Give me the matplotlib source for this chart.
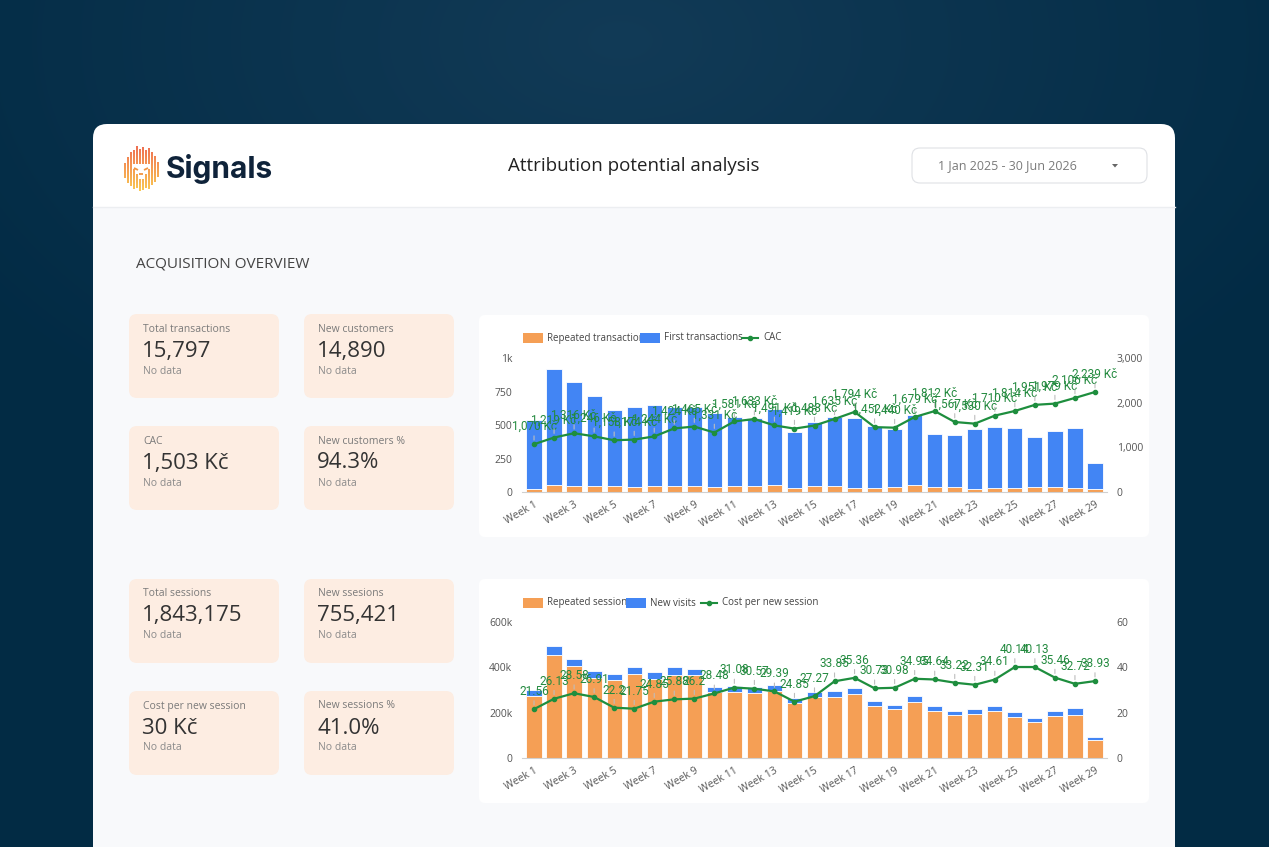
import numpy as np
import matplotlib
matplotlib.use('Agg')
from matplotlib import pyplot as plt
from matplotlib.patches import FancyBboxPatch, Rectangle, Polygon
from matplotlib.lines import Line2D
from matplotlib.collections import LineCollection

plt.rcParams['font.family'] = ['Open Sans', 'DejaVu Sans']

W, H = 1269, 847

ORANGE = '#f59f55'
BLUE = '#4285f4'
GREEN = '#1e8e3e'
PEACH = '#fdede2'

# --- data ---
weeks = [f'Week {i}' for i in range(1, 30)]

repeated_tx = [25, 55, 45, 45, 45, 40, 48, 45, 45, 40, 45, 45, 50, 30, 42,
               42, 32, 30, 40, 54, 35, 35, 25, 27, 32, 35, 35, 27, 20]
first_tx = [510, 863, 774, 675, 566, 594, 598, 591, 591, 547, 512, 507, 566, 418, 483,
            520, 518, 463, 428, 520, 396, 393, 443, 461, 443, 373, 423, 448, 195]
cac = [1070, 1219, 1316, 1246, 1158, 1174, 1244, 1424, 1465, 1331, 1581, 1633, 1491, 1419, 1488,
       1635, 1794, 1452, 1440, 1679, 1812, 1567, 1530, 1710, 1814, 1951, 1979, 2106, 2239]

# sessions in thousands
repeated_sessions_k = [273, 454, 406, 354, 343, 369, 350, 368, 365, 291, 293, 288, 297, 243, 268,
                       268, 284, 228, 215, 247, 209, 190, 194, 207, 181, 160, 185, 191, 79]
new_visits_k = [25, 39, 32, 28, 26, 32, 28, 32, 29, 21, 26, 25, 27, 23, 23,
                26, 26, 23, 19, 25, 19, 17, 21, 24, 20, 18, 24, 31, 14]
cost_per_session = [21.56, 26.13, 28.58, 26.91, 22.2, 21.75, 24.85, 25.88, 26.2, 28.48, 31.08, 30.57,
                    29.39, 24.85, 27.27, 33.85, 35.36, 30.73, 30.98, 34.95, 34.64, 33.22, 32.31,
                    34.61, 40.14, 40.13, 35.46, 32.72, 33.93]

kpi_top = [('Total transactions', '15,797'), ('New customers', '14,890'),
           ('CAC', '1,503 Kč'), ('New customers %', '94.3%')]
kpi_bottom = [('Total sessions', '1,843,175'), ('New ssesions', '755,421'),
              ('Cost per new session', '30 Kč'), ('New sessions %', '41.0%')]


def rounded(ax, x, y, w, h, r, fc, ec='none', lw=0, z=1):
    ax.add_patch(FancyBboxPatch((x, y), w, h, boxstyle=f'round,pad=0,rounding_size={r}',
                                fc=fc, ec=ec, lw=lw, zorder=z))


def draw_logo(ax):
    # vertical stripes forming a mane, with a triangular face cut out in the middle
    tops = [163, 157, 152, 150, 146, 149, 147, 150, 148, 152, 156, 162]
    bots = [178, 183, 186, 189, 188, 191, 190, 188, 189, 185, 182, 177]
    c_top = np.array([0.93, 0.38, 0.25])
    c_bot = np.array([0.98, 0.77, 0.25])
    segs, cols = [], []
    for i, (t, b) in enumerate(zip(tops, bots)):
        x = 124.5 + 3 * i
        off = abs(x - 141) / 9.0
        for y in np.arange(t, b, 1.0):
            if off < 1 and 163 < y < 181 - 15 * off:
                continue
            segs.append([(x, y), (x, y + 1.0)])
            f = (y - 146) / 45
            cols.append(c_top * (1 - f) + c_bot * f)
    # little face marks: eyes and nose
    for (xa, ya, xb, yb) in [(134, 168, 138, 170), (148, 168, 144, 170), (139, 174, 143, 174)]:
        segs.append([(xa, ya), (xb, yb)])
        cols.append(np.array([0.95, 0.58, 0.25]))
    ax.add_collection(LineCollection(segs, colors=cols, linewidths=1.3, zorder=3))


def kpi_card(ax, x, y, label, value):
    rounded(ax, x, y, 150, 84, 8, PEACH, z=2)
    ax.text(x + 14, y + 15, label, fontsize=7.5, color='#7a7a7a', va='center', zorder=3)
    ax.text(x + 13, y + 37, value, fontsize=16, color='#333333', va='center', zorder=3)
    ax.text(x + 14, y + 57, 'No data', fontsize=7.5, color='#8a8a8a', va='center', zorder=3)


def legend_row(ax, y, x_items):
    # x_items: (kind, x, text)
    for kind, x, text in x_items:
        if kind == 'line':
            ax.add_line(Line2D([x, x + 16], [y, y], color=GREEN, lw=1.5, zorder=6))
            ax.plot([x + 8], [y], 'o', color=GREEN, ms=3, zorder=6)
            ax.text(x + 21, y, text, fontsize=7, color='#444', va='center', zorder=5)
        else:
            ax.add_patch(Rectangle((x, y - 5), 20, 10, fc=kind, ec='none', zorder=6))
            ax.text(x + 24, y, text, fontsize=7, color='#444', va='center', zorder=5)


def combo_chart(fig, top_px, bottom_px, low, high, line, ymax, yticks, ylabels,
                rmax, rticks, rlabels, fmt):
    x0, x1 = 522, 1107
    ax = fig.add_axes([x0 / W, 1 - bottom_px / H, (x1 - x0) / W, (bottom_px - top_px) / H])
    ax.set_facecolor('none')
    x = np.arange(len(weeks))
    ax.bar(x, low, width=0.76, color=ORANGE, edgecolor='white', lw=0.6, zorder=2)
    ax.bar(x, high, bottom=low, width=0.76, color=BLUE, edgecolor='white', lw=0.6, zorder=2)
    ax.set_xlim(-0.6, len(weeks) - 0.4)
    ax.set_ylim(0, ymax)
    ax.set_yticks(yticks)
    ax.set_yticklabels(ylabels)
    ax.set_xticks(x[::2])
    ax.set_xticklabels(weeks[::2], rotation=30, ha='right', rotation_mode='anchor')
    ax.tick_params(length=0, labelsize=7.5, labelcolor='#555555', pad=7)
    ax.tick_params(axis='x', pad=5)
    for s in ['top', 'left', 'right']:
        ax.spines[s].set_visible(False)
    ax.spines['bottom'].set_color('#d0d0d0')

    ax2 = ax.twinx()
    ax2.plot(x, line, color=GREEN, lw=1.6, marker='o', ms=3, zorder=4)
    ax2.set_ylim(0, rmax)
    ax2.set_yticks(rticks)
    ax2.set_yticklabels(rlabels)
    ax2.tick_params(length=0, labelsize=7.5, labelcolor='#555555', pad=7)
    for s in ax2.spines.values():
        s.set_visible(False)
    for xi, v in zip(x, line):
        ax2.annotate(fmt(v), xy=(xi, v), xytext=(0, 8), textcoords='offset points',
                     ha='center', va='bottom', fontsize=8.5, family='Roboto', color='#238a3f',
                     annotation_clip=False,
                     arrowprops=dict(arrowstyle='-', color='#bdbdbd', lw=0.8,
                                     relpos=(0.5, 0), shrinkA=0, shrinkB=3))
    return ax


fig = plt.figure(figsize=(W / 100, H / 100), dpi=100)

# background and page frame drawn in pixel coordinates
bg = fig.add_axes([0, 0, 1, 1])
bg.set_xlim(0, W)
bg.set_ylim(H, 0)
bg.axis('off')

yy, xx = np.mgrid[0:H, 0:W]
d = np.clip(np.sqrt(((xx - 620) / 760) ** 2 + ((yy - 40) / 460) ** 2), 0, 1)
inner = np.array([0.07, 0.23, 0.34])
outer = np.array([0.01, 0.17, 0.27])
img = inner * (1 - d[..., None]) + outer * d[..., None]
bg.imshow(img, extent=(0, W, H, 0), aspect='auto', zorder=0)

rounded(bg, 93, 124, 1082, 780, 14, 'white', z=1)
bg.add_patch(Rectangle((93, 207), 1082, 700, fc='#f8f9fb', ec='none', zorder=1.5))
bg.add_line(Line2D([93, 1175], [207, 207], color='#eceef1', lw=1, zorder=2))

draw_logo(bg)
bg.text(166, 169, 'Signals', fontsize=21.5, fontweight='bold', family='Inter',
        color='#0f233a', va='center', zorder=3)
bg.text(634, 166, 'Attribution potential analysis', fontsize=13.5, color='#222222',
        ha='center', va='center', zorder=3)

rounded(bg, 912, 148, 235, 35, 8, 'white', ec='#dfe1e5', lw=0.8, z=2)
bg.text(1007, 166, '1 Jan 2025 - 30 Jun 2026', fontsize=9, color='#7a7a7a',
        ha='center', va='center', zorder=3)
bg.add_patch(Polygon([(1112, 164), (1118, 164), (1115, 167.5)], fc='#666666', zorder=3))

bg.text(136, 264, 'ACQUISITION OVERVIEW', fontsize=11, color='#444444', va='center', zorder=3)

for (label, value), (x, y) in zip(kpi_top, [(129, 314), (304, 314), (129, 426), (304, 426)]):
    kpi_card(bg, x, y, label, value)
for (label, value), (x, y) in zip(kpi_bottom, [(129, 579), (304, 579), (129, 691), (304, 691)]):
    kpi_card(bg, x, y, label, value)

# chart panels
rounded(bg, 479, 315, 670, 222, 6, 'white', z=2)
rounded(bg, 479, 579, 670, 224, 6, 'white', z=2)

legend_row(bg, 338, [(ORANGE, 523, 'Repeated transactions'), (BLUE, 640, 'First transactions'),
                     ('line', 742, 'CAC')])
legend_row(bg, 603, [(ORANGE, 523, 'Repeated sessions'), (BLUE, 626, 'New visits'),
                     ('line', 701, 'Cost per new session')])

combo_chart(fig, 358, 492, repeated_tx, first_tx, cac,
            1000, [0, 250, 500, 750, 1000], ['0', '250', '500', '750', '1k'],
            3000, [0, 1000, 2000, 3000], ['0', '1,000', '2,000', '3,000'],
            lambda v: f'{v:,} Kč')

combo_chart(fig, 622, 758, np.array(repeated_sessions_k) * 1000, np.array(new_visits_k) * 1000,
            cost_per_session,
            600000, [0, 200000, 400000, 600000], ['0', '200k', '400k', '600k'],
            60, [0, 20, 40, 60], ['0', '20', '40', '60'],
            lambda v: f'{v:.2f}'.rstrip('0').rstrip('.'))

fig.savefig('out.png', dpi=100)
